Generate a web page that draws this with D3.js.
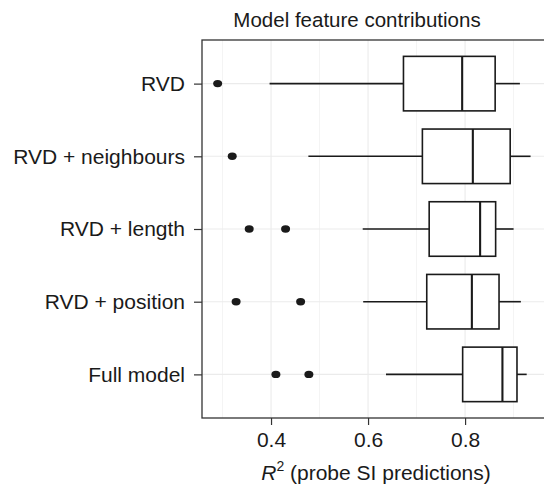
<!DOCTYPE html>
<html>
<head>
<meta charset="utf-8">
<script src="https://cdn.jsdelivr.net/npm/d3@7"></script>
<style>
  body { margin: 0; background: #fff; }
  text { font-family: "Liberation Sans", Arial, sans-serif; fill: #1a1a1a; }
</style>
</head>
<body>
<div id="chart"></div>
<script>
// svg container
var svgWidth = 544;
var svgHeight = 493;

// panel edges (right edge runs off the picture)
var margin = { top: 40, right: -5, bottom: 75, left: 202 };
var width = svgWidth - margin.left - margin.right;
var height = svgHeight - margin.top - margin.bottom;

// data
var models = ["RVD", "RVD + neighbours", "RVD + length", "RVD + position", "Full model"];
var whiskerLow = [0.397, 0.477, 0.589, 0.590, 0.637];
var q1 = [0.673, 0.712, 0.726, 0.721, 0.795];
var median = [0.794, 0.816, 0.831, 0.814, 0.877];
var q3 = [0.862, 0.893, 0.863, 0.870, 0.907];
var whiskerHigh = [0.913, 0.935, 0.900, 0.915, 0.927];
var outliers = [[0.290], [0.320], [0.355, 0.430], [0.328, 0.461], [0.410, 0.478]];
var xTicks = [0.4, 0.6, 0.8];
var xMinor = [0.3, 0.5, 0.7, 0.9];

var boxes = models.map(function(m, i) {
  return { model: m, lo: whiskerLow[i], q1: q1[i], med: median[i], q3: q3[i], hi: whiskerHigh[i], out: outliers[i] };
});

var svg = d3.select("#chart")
  .append("svg")
  .attr("width", svgWidth)
  .attr("height", svgHeight);

var chartGroup = svg.append("g")
  .attr("transform", `translate(${margin.left}, ${margin.top})`);

// scales
var xScale = d3.scaleLinear()
  .domain([0.2577, 0.973])
  .range([0, width]);

// discrete y like ggplot: positions 1..5 with 0.6 expansion each side
var yScale = d3.scaleLinear()
  .domain([0.4, 5.6])
  .range([0, height]);
function yPos(m) { return yScale(models.indexOf(m) + 1); }
var boxH = (yScale(2) - yScale(1)) * 0.75;

var ink = "#1a1a1a";

// grid
chartGroup.append("g").selectAll("line")
  .data(xMinor).enter().append("line")
  .attr("x1", d => xScale(d)).attr("x2", d => xScale(d))
  .attr("y1", 0).attr("y2", height)
  .attr("stroke", "#f4f4f4").attr("stroke-width", 1);

chartGroup.append("g").selectAll("line")
  .data(xTicks).enter().append("line")
  .attr("x1", d => xScale(d)).attr("x2", d => xScale(d))
  .attr("y1", 0).attr("y2", height)
  .attr("stroke", "#ebebeb").attr("stroke-width", 1.1);

chartGroup.append("g").selectAll("line")
  .data(models).enter().append("line")
  .attr("x1", 0).attr("x2", width)
  .attr("y1", d => yPos(d)).attr("y2", d => yPos(d))
  .attr("stroke", "#ebebeb").attr("stroke-width", 1.1);

// boxplots
var boxGroup = chartGroup.selectAll("g.box")
  .data(boxes).enter().append("g")
  .attr("class", "box")
  .attr("transform", d => `translate(0, ${yPos(d.model)})`);

boxGroup.append("line")
  .attr("x1", d => xScale(d.lo)).attr("x2", d => xScale(d.q1))
  .attr("stroke", ink).attr("stroke-width", 1.6);

boxGroup.append("line")
  .attr("x1", d => xScale(d.q3)).attr("x2", d => xScale(d.hi))
  .attr("stroke", ink).attr("stroke-width", 1.6);

boxGroup.append("rect")
  .attr("x", d => xScale(d.q1))
  .attr("width", d => xScale(d.q3) - xScale(d.q1))
  .attr("y", -boxH / 2)
  .attr("height", boxH)
  .attr("fill", "#fff")
  .attr("stroke", ink).attr("stroke-width", 1.6);

boxGroup.append("line")
  .attr("x1", d => xScale(d.med)).attr("x2", d => xScale(d.med))
  .attr("y1", -boxH / 2).attr("y2", boxH / 2)
  .attr("stroke", ink).attr("stroke-width", 2.1);

boxGroup.selectAll("ellipse")
  .data(d => d.out).enter().append("ellipse")
  .attr("cx", d => xScale(d)).attr("cy", 0)
  .attr("rx", 4.5).attr("ry", 3.7)
  .attr("fill", ink);

// panel border
chartGroup.append("rect")
  .attr("x", 0).attr("y", 0)
  .attr("width", width).attr("height", height)
  .attr("fill", "none")
  .attr("stroke", "#333").attr("stroke-width", 1.3);

// x axis
var bottomAxis = d3.axisBottom(xScale).tickValues(xTicks).tickFormat(d3.format(".1f"))
  .tickSize(7).tickPadding(7);
var xAxis = chartGroup.append("g")
  .attr("transform", `translate(0, ${height})`)
  .call(bottomAxis);
xAxis.select(".domain").remove();
xAxis.selectAll("line").attr("stroke", "#333").attr("stroke-width", 1.2);
xAxis.selectAll("text").attr("font-size", 21).attr("fill", "#222")
  .attr("font-family", "Liberation Sans, Arial, sans-serif");

// y axis
var leftAxis = d3.axisLeft(d3.scaleOrdinal().domain(models).range(models.map(yPos)))
  .tickSize(8).tickPadding(9);
var yAxis = chartGroup.append("g").call(leftAxis);
yAxis.select(".domain").remove();
yAxis.selectAll("line").attr("stroke", "#333").attr("stroke-width", 1.2);
yAxis.selectAll("text").attr("font-size", 21).attr("fill", "#222")
  .attr("font-family", "Liberation Sans, Arial, sans-serif");

// title
svg.append("text")
  .attr("x", 357).attr("y", 27)
  .attr("text-anchor", "middle")
  .attr("font-size", 20.5)
  .text("Model feature contributions");

// x label
var xLabel = svg.append("text")
  .attr("x", 376).attr("y", 480)
  .attr("text-anchor", "middle")
  .attr("font-size", 21);
xLabel.append("tspan").attr("font-style", "italic").text("R");
xLabel.append("tspan").attr("font-size", 14).attr("dy", -9).text("2");
xLabel.append("tspan").attr("dy", 9).text(" (probe SI predictions)");
</script>
</body>
</html>
